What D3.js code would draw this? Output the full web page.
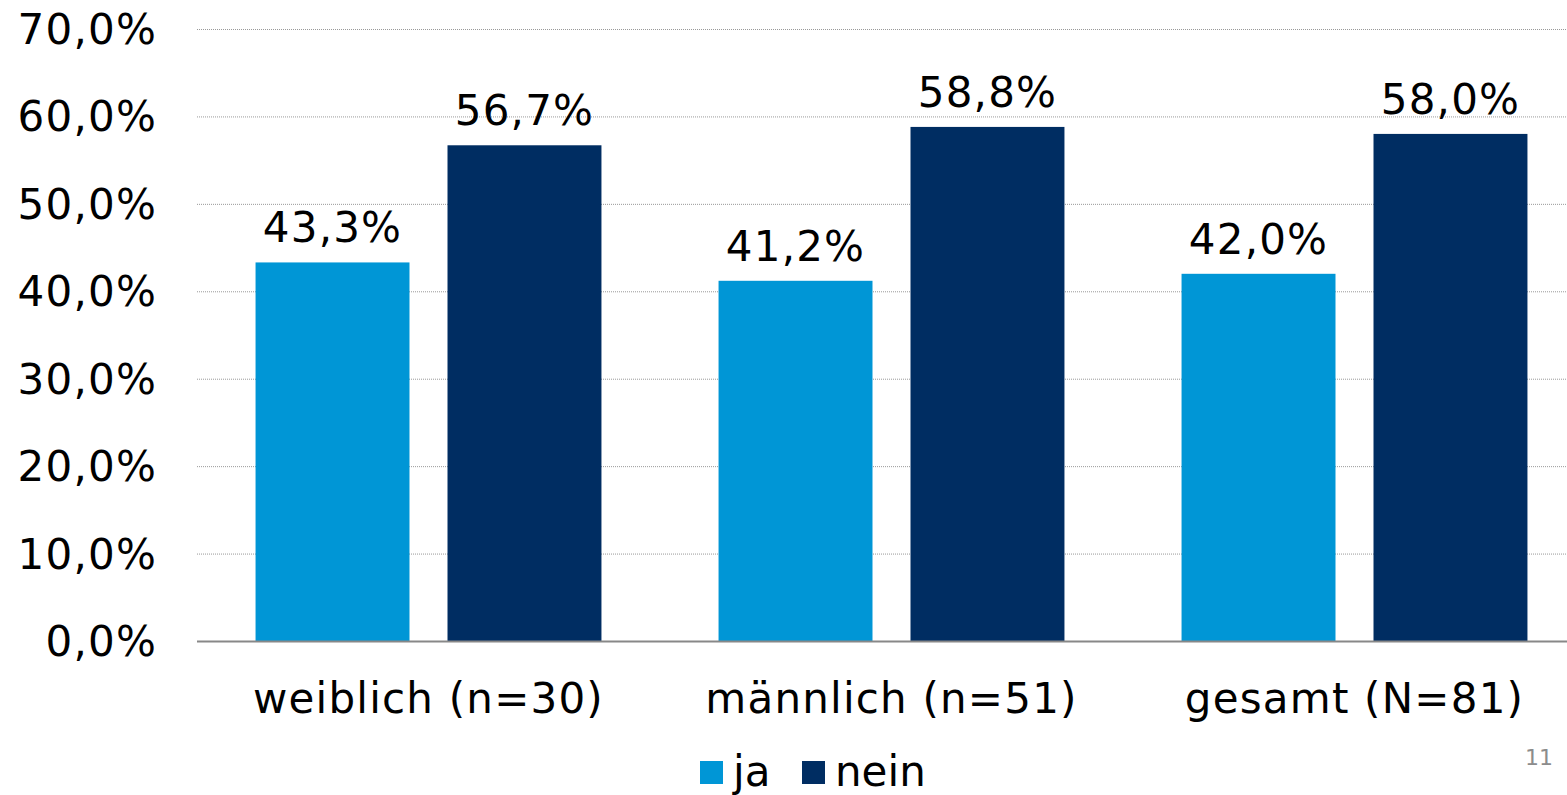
<!DOCTYPE html>
<meta charset="utf-8">
<style>
body { margin: 0; background: #fff; }
svg { display: block; font-family: "DejaVu Sans", Verdana, sans-serif; }
.grid line { stroke: #999; stroke-width: 1; stroke-dasharray: 1,1; }
.grid path { display: none; }
.lbl { font-size: 42px; letter-spacing: 1.2px; }
</style>
<body>
<svg id="chart" width="1567" height="795"></svg>
<script src="https://d3js.org/d3.v7.min.js"></script>
<script>
// data
var categories = ["weiblich (n=30)", "männlich (n=51)", "gesamt (N=81)"];
var series = ["ja", "nein"];
var ja = [43.3, 41.2, 42.0];
var nein = [56.7, 58.8, 58.0];
var yTicks = [0, 10, 20, 30, 40, 50, 60, 70];
var colors = ["#0096d6", "#002d62"];

var rows = categories.map((c, i) => ({cat: c, ja: ja[i], nein: nein[i]}));
var fmt = v => v.toFixed(1).replace(".", ",") + "%";

var svg = d3.select("#chart");
var plot = {left: 197, right: 1586, top: 29, bottom: 641};

var x0 = d3.scaleBand().domain(categories).range([plot.left, plot.right]);
var x1 = d3.scaleBand().domain(series).range([0, x0.bandwidth()])
  .paddingInner(0.198).paddingOuter(0.305);
var y = d3.scaleLinear().domain([0, 70]).range([plot.bottom, plot.top]);

// gridlines
svg.append("g")
  .attr("class", "grid")
  .attr("transform", `translate(${plot.left},0)`)
  .call(d3.axisLeft(y).tickValues(yTicks.filter(t => t > 0))
    .tickSize(-(plot.right - plot.left)).tickFormat(""));

// y labels
svg.append("g").selectAll("text")
  .data(yTicks)
  .enter().append("text")
  .attr("class", "lbl")
  .attr("x", 157)
  .attr("y", d => y(d) + 15)
  .attr("text-anchor", "end")
  .text(d => fmt(d));

// bars
var group = svg.selectAll(".cat")
  .data(rows)
  .enter().append("g")
  .attr("class", "cat")
  .attr("transform", d => `translate(${x0(d.cat)},0)`);

series.forEach((s, k) => {
  group.append("rect")
    .attr("x", x1(s))
    .attr("y", d => y(d[s]))
    .attr("width", x1.bandwidth())
    .attr("height", d => plot.bottom - y(d[s]))
    .style("fill", colors[k]);
  group.append("text")
    .attr("class", "lbl")
    .attr("x", x1(s) + x1.bandwidth() / 2)
    .attr("y", d => y(d[s]) - 20)
    .attr("text-anchor", "middle")
    .text(d => fmt(d[s]));
});

// x axis line
svg.append("line")
  .attr("x1", plot.left).attr("x2", plot.right)
  .attr("y1", plot.bottom + 0.5).attr("y2", plot.bottom + 0.5)
  .style("stroke", "#888").style("stroke-width", 2);

// category labels
svg.append("g").selectAll("text")
  .data(categories)
  .enter().append("text")
  .attr("class", "lbl")
  .attr("x", d => x0(d) + x0.bandwidth() / 2)
  .attr("y", 713)
  .attr("text-anchor", "middle")
  .text(d => d);

// legend
var legend = svg.append("g");
var legX = [700, 802];
series.forEach((s, k) => {
  legend.append("rect")
    .attr("x", legX[k]).attr("y", 761)
    .attr("width", 23).attr("height", 23)
    .style("fill", colors[k]);
  legend.append("text")
    .attr("x", legX[k] + 33).attr("y", 786)
    .style("font-size", "42px")
    .text(s);
});

// page number
svg.append("text")
  .attr("x", 1553).attr("y", 765)
  .attr("text-anchor", "end")
  .style("font-size", "22px")
  .style("fill", "#8c8c8c")
  .text("11");
</script>
</body>
